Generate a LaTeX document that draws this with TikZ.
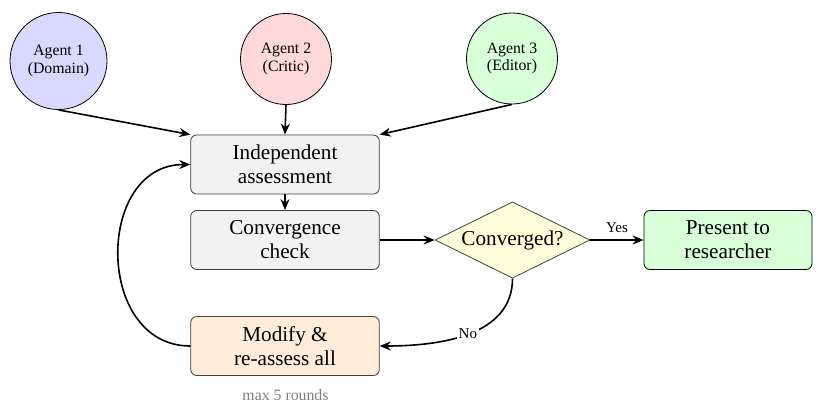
\documentclass[tikz,border=0pt]{standalone}
\usepackage{fontspec}
\setmainfont{Liberation Serif}
\usetikzlibrary{shapes.geometric,arrows.meta}
\begin{document}
\begin{tikzpicture}[x=0.5pt,y=-0.5pt,
  agent/.style={circle,draw=black,thin,font=\fontsize{7.9}{8.6}\selectfont,align=center,inner sep=0pt},
  box/.style={rectangle,rounded corners=3pt,draw=black!75,thin,minimum width=94.3pt,minimum height=29.5pt,align=center,font=\fontsize{10.6}{12}\selectfont,inner sep=1pt},
  dec/.style={diamond,draw=black!75,thin,fill=yellow!15,aspect=2,minimum width=77.5pt,minimum height=38pt,inner sep=1pt,font=\fontsize{10.6}{12}\selectfont},
  conn/.style={thick,-{Stealth[length=5.5pt,width=4.5pt,inset=1.8pt]}},
  lbl/.style={font=\fontsize{7.5}{8}\selectfont}]
\useasboundingbox (0,0) rectangle (821,404);
\node[agent,fill=blue!15,minimum size=48.5pt] (a1) at (58.5,61) {Agent 1\\(Domain)};
\node[agent,fill=red!15,minimum size=45.5pt] (a2) at (286,59) {Agent 2\\(Critic)};
\node[agent,fill=green!15,minimum size=45.5pt] (a3) at (512,58.5) {Agent 3\\(Editor)};
\node[box,fill=gray!10] (ind) at (285,164.5) {Independent\\assessment};
\node[box,fill=gray!10] (conv) at (285,240) {Convergence\\check};
\node[dec] (dec) at (512.5,240) {Converged?};
\node[box,fill=green!15,draw=black,minimum width=84pt] (pres) at (728,240) {Present to\\researcher};
\node[box,fill=orange!15] (mod) at (285,346) {Modify \&\\re-assess all};
\node[font=\fontsize{7.9}{8}\selectfont,text=black!50] (note) at (285.5,395) {max 5 rounds};
\draw[conn] (a1.south) -- (ind.north west);
\draw[conn] (a2.south) -- (ind.north);
\draw[conn] (a3.south) -- (ind.north east);
\draw[conn] (ind.south) -- (conv.north);
\draw[conn] (conv.east) -- (dec.west);
\draw[conn] (dec.east) -- node[lbl,above] {Yes} (pres.west);
\draw[conn] (dec.south) to[out=-90,in=0] node[lbl,fill=white,inner sep=1pt] {No} (mod.east);
\draw[conn] (mod.west) to[out=180,in=180,looseness=1.35] (ind.west);
\end{tikzpicture}
\end{document}
